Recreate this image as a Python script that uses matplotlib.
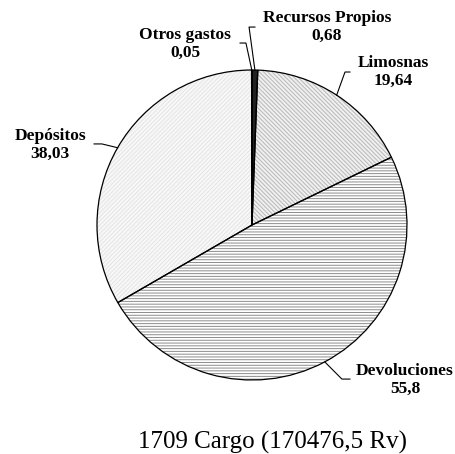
import numpy as np
import matplotlib
matplotlib.use('Agg')
import matplotlib.pyplot as plt

plt.rcParams['font.family'] = ['Liberation Serif', 'DejaVu Serif']
plt.rcParams['hatch.linewidth'] = 0.7

# datos (en miles de Rv)
labels = ['Recursos Propios', 'Limosnas', 'Devoluciones', 'Depósitos', 'Otros gastos']
values = [0.68, 19.64, 55.8, 38.03, 0.05]
value_labels = ['0,68', '19,64', '55,8', '38,03', '0,05']
title = '1709 Cargo (170476,5 Rv)'

face_colors = ['#222222', '#f0f0f0', '#ffffff', '#f8f8f8', '#ffffff']
hatches = [None, '\\\\\\\\\\\\\\\\', '------', '////////', None]
hatch_colors = ['#222222', '#b8b8b8', '#8c8c8c', '#e4e4e4', '#ffffff']

# posiciones de etiquetas (texto, codo, fin de la linea guia) en unidades del radio
label_pos = {
    'Recursos Propios': ((0.484, 1.277), (-0.019, 1.277), (0.019, 1.277)),
    'Limosnas': ((0.91, 0.987), (0.60, 0.987), (0.632, 0.987)),
    'Devoluciones': ((0.987, -1.0), (0.58, -0.994), (0.632, -0.994)),
    'Depósitos': ((-1.303, 0.516), (-0.968, 0.523), (-1.019, 0.523)),
    'Otros gastos': ((-0.432, 1.168), (-0.039, 1.174), (-0.077, 1.174)),
}

W, H = 455, 454
cx, cy, r = 252, 225, 155
fig = plt.figure(figsize=(W / 100, H / 100), dpi=100)
ax = fig.add_axes([0, 0, 1, 1])

# relleno
wedges, _ = ax.pie(values, startangle=90, counterclock=False, colors=face_colors,
                   wedgeprops=dict(edgecolor='none', linewidth=0))
for w in wedges:
    w.set_zorder(1)
# tramas
hw, _ = ax.pie(values, startangle=90, counterclock=False,
               wedgeprops=dict(facecolor='none', linewidth=0))
for w, h, c in zip(hw, hatches, hatch_colors):
    w.set_hatch(h)
    w.set_edgecolor(c)
    w.set_linewidth(0)
    w.set_zorder(2)
# bordes encima
bw, _ = ax.pie(values, startangle=90, counterclock=False,
               wedgeprops=dict(facecolor='none', edgecolor='black', linewidth=0.9))
for w in bw:
    w.set_zorder(3)

# etiquetas y lineas guia
for w, lab, vl in zip(wedges, labels, value_labels):
    ang = np.deg2rad((w.theta1 + w.theta2) / 2)
    ex, ey = np.cos(ang), np.sin(ang)
    (tx, ty), (kx, ky), (fx, fy) = label_pos[lab]
    ax.plot([ex, kx, fx], [ey, ky, fy], color='black', linewidth=0.8, zorder=4)
    ax.text(tx, ty, f'{lab}\n{vl}', ha='center', va='center', fontsize=12.5,
            fontweight='bold', linespacing=1.15, zorder=5)

ax.set_aspect('auto')
ax.set_xlim((0 - cx) / r, (W - cx) / r)
ax.set_ylim((cy - H) / r, cy / r)
ax.axis('off')

fig.text(272 / W, 1 - 442 / H, title, ha='center', va='center', fontsize=18)

plt.savefig('out.png', dpi=100)
plt.close()
